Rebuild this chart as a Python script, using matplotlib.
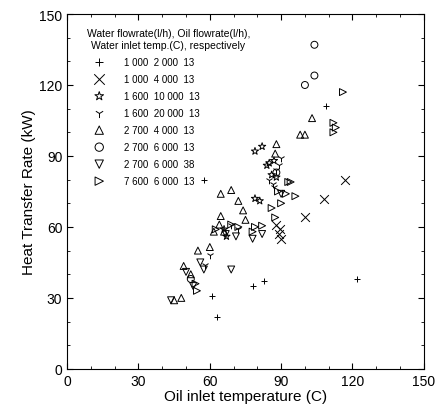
import matplotlib
matplotlib.use("Agg")
import matplotlib.pyplot as plt
from matplotlib.ticker import MultipleLocator

plt.rcParams['font.family'] = ['Liberation Sans', 'DejaVu Sans']

labels = ["1 000  2 000  13", "1 000  4 000  13", "1 600  10 000  13", "1 600  20 000  13",
          "2 700  4 000  13", "2 700  6 000  13", "2 700  6 000  38", "7 600  6 000  13"]

s1_x = [63, 78, 83, 122, 61, 109, 57.5]
s1_y = [22, 35, 37, 38, 31, 111, 80]

s2_x = [88, 89, 90, 100, 108, 117, 89.5]
s2_y = [61, 57, 55, 64, 72, 80, 59]

s3_x = [79, 82, 85, 87, 79, 81, 86, 88, 84, 66, 67]
s3_y = [92, 94, 87, 88, 72, 71, 82, 81, 86, 59, 56]

s4_x = [85, 87, 90, 88, 69, 72, 86.5, 89, 60, 58]
s4_y = [80, 77, 89, 84, 61, 59, 78, 86, 48, 44]

s5_x = [64.6, 72, 74, 75, 64.6, 64, 88, 87.5, 98, 100, 103, 61.7, 55, 60, 49, 52, 45, 48, 69, 66]
s5_y = [74, 71, 67, 63, 64.6, 61, 95, 91, 99, 99, 106, 58, 50, 51.5, 43.5, 40, 29, 30, 75.6, 58]

s6_x = [100, 104, 104, 52, 88]
s6_y = [120, 124, 137, 38, 83]

s7_x = [69, 66.7, 71, 78, 82, 56, 57.5, 53, 50, 90, 43.7]
s7_y = [42, 57, 56, 55, 57, 45, 42, 35, 41, 74, 29]

s8_x = [116, 112, 112, 113, 93, 94, 88.7, 92, 96, 86, 90, 87.5, 79, 82, 72, 69, 62.5, 54.6, 54, 78]
s8_y = [117, 104, 100, 102, 79, 79, 75, 74, 73, 68, 70, 64, 60, 60.5, 60, 61, 59, 33, 36, 58]

series = [(s1_x, s1_y), (s2_x, s2_y), (s3_x, s3_y), (s4_x, s4_y),
          (s5_x, s5_y), (s6_x, s6_y), (s7_x, s7_y), (s8_x, s8_y)]
markers = ['+', 'x', '*', '1', '^', 'o', 'v', '>']
sizes = [20, 40, 30, 30, 25, 25, 25, 25]

fig = plt.figure(figsize=(4.36, 4.06), dpi=100)
ax = fig.add_axes([0.154, 0.089, 0.818, 0.874])

for (xs, ys), m, s, lab in zip(series, markers, sizes, labels):
    if m in ('+', 'x', '1'):
        ax.scatter(xs, ys, marker=m, s=s, c='black', linewidths=0.7, label=lab)
    else:
        ax.scatter(xs, ys, marker=m, s=s, facecolors='none', edgecolors='black',
                   linewidths=0.7, label=lab)

ax.set_xlim(0, 150)
ax.set_ylim(0, 150)
ax.xaxis.set_major_locator(MultipleLocator(30))
ax.yaxis.set_major_locator(MultipleLocator(30))
ax.xaxis.set_minor_locator(MultipleLocator(10))
ax.yaxis.set_minor_locator(MultipleLocator(10))
ax.tick_params(which='both', direction='in', top=True, right=True, labelsize=10)
ax.tick_params(which='major', length=4)
ax.tick_params(which='minor', length=2)
ax.set_xlabel("Oil inlet temperature (C)", fontsize=11, labelpad=1)
ax.set_ylabel("Heat Transfer Rate (kW)", fontsize=11, labelpad=2)

leg = ax.legend(title="Water flowrate(l/h), Oil flowrate(l/h),\nWater inlet temp.(C), respectively",
                loc='upper left', bbox_to_anchor=(0.03, 0.985), frameon=False,
                fontsize=7, title_fontsize=7.5, labelspacing=0.72, handletextpad=1.2,
                handlelength=2.6, markerscale=1.2)
leg._legend_box.align = "left"
leg.get_title().set_multialignment('center')

fig.savefig("out.png", dpi=100)
